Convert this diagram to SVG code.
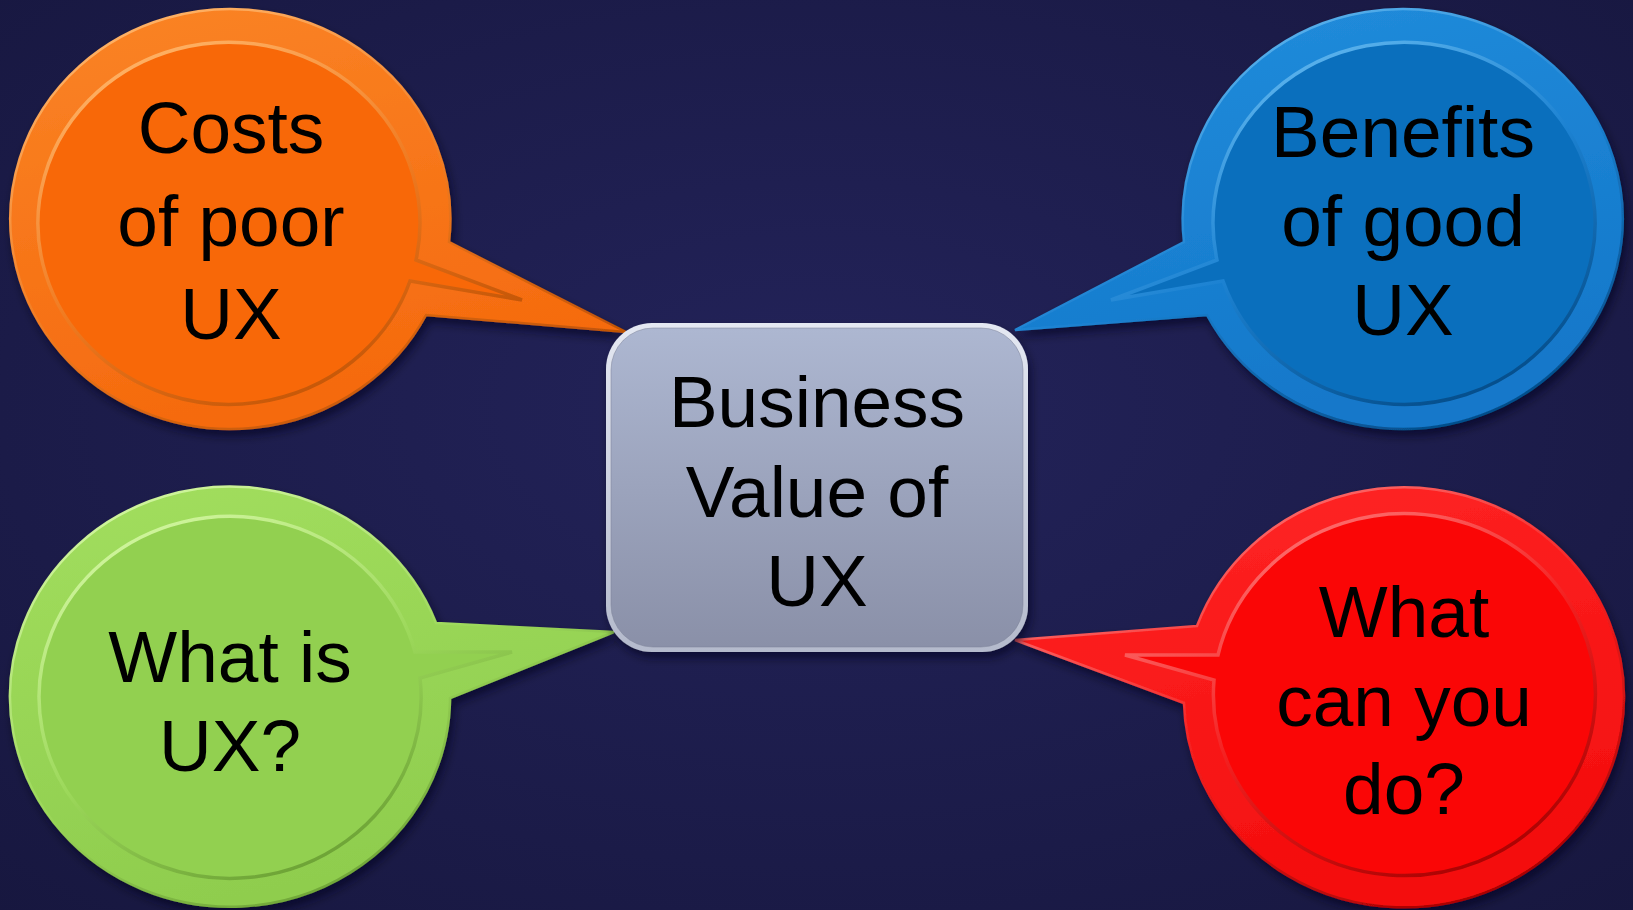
<svg xmlns="http://www.w3.org/2000/svg" width="1633" height="910" viewBox="0 0 1633 910">
  <defs>
    <radialGradient id="bg" cx="50%" cy="45%" r="75%">
      <stop offset="0" stop-color="#23235a"/>
      <stop offset="1" stop-color="#17173f"/>
    </radialGradient>
    <filter id="shadow" x="-10%" y="-10%" width="125%" height="125%">
      <feDropShadow dx="3" dy="6" stdDeviation="5" flood-color="#05051a" flood-opacity="0.6"/>
    </filter>
    <!-- rim (outer band) gradients -->
    <linearGradient id="rimO" x1="0" y1="0" x2="0.3" y2="1">
      <stop offset="0" stop-color="#fa8426"/><stop offset="1" stop-color="#f56a0e"/>
    </linearGradient>
    <linearGradient id="rimB" x1="0" y1="0" x2="0.3" y2="1">
      <stop offset="0" stop-color="#228ddc"/><stop offset="1" stop-color="#1478ca"/>
    </linearGradient>
    <linearGradient id="rimG" x1="0" y1="0" x2="0.3" y2="1">
      <stop offset="0" stop-color="#a2de5e"/><stop offset="1" stop-color="#8fcd4e"/>
    </linearGradient>
    <linearGradient id="rimR" x1="0" y1="0" x2="0.3" y2="1">
      <stop offset="0" stop-color="#ff2626"/><stop offset="1" stop-color="#f40e0e"/>
    </linearGradient>
    <!-- bevel edge gradients: light upper-left, dark lower-right -->
    <linearGradient id="edgeO" x1="0.2" y1="0" x2="0.8" y2="1">
      <stop offset="0" stop-color="#ffb468"/><stop offset="0.5" stop-color="#f07a20"/><stop offset="1" stop-color="#b84c00"/>
    </linearGradient>
    <linearGradient id="edgeB" x1="0.2" y1="0" x2="0.8" y2="1">
      <stop offset="0" stop-color="#6cc0f4"/><stop offset="0.5" stop-color="#1c82d2"/><stop offset="1" stop-color="#034a86"/>
    </linearGradient>
    <linearGradient id="edgeG" x1="0.2" y1="0" x2="0.8" y2="1">
      <stop offset="0" stop-color="#d2f6a0"/><stop offset="0.5" stop-color="#9cd85a"/><stop offset="1" stop-color="#5e922a"/>
    </linearGradient>
    <linearGradient id="edgeR" x1="0.2" y1="0" x2="0.8" y2="1">
      <stop offset="0" stop-color="#ff8080"/><stop offset="0.5" stop-color="#f42020"/><stop offset="1" stop-color="#a40000"/>
    </linearGradient>
    <!-- centre box -->
    <linearGradient id="boxRim" x1="0" y1="0" x2="0" y2="1">
      <stop offset="0" stop-color="#e4e8f2"/><stop offset="1" stop-color="#b4bacc"/>
    </linearGradient>
    <linearGradient id="boxFace" x1="0" y1="0" x2="0" y2="1">
      <stop offset="0" stop-color="#adb7d1"/><stop offset="1" stop-color="#8a90a8"/>
    </linearGradient>
    <style>
      .label { font-family: "Liberation Sans", Arial, sans-serif; font-size: 73px; fill: #000; text-anchor: middle; }
      .outline { stroke-width: 2.5; }
      .groove { stroke-width: 3.5; }
    </style>
  </defs>

  <rect width="1633" height="910" fill="url(#bg)"/>

  <!-- connectors: bubble tails are part of each bubble outline below -->
  <g id="connectors"/>

  <g id="costs-of-poor-ux">
    <path filter="url(#shadow)" fill="url(#rimO)" stroke="url(#edgeO)" class="outline"
          d="M 449 242 L 626 332 L 426 315 A 220 210 0 1 1 449 242 Z"/>
    <path fill="#f86808" stroke="url(#edgeO)" class="groove"
          d="M 416 260 L 522 300 L 410 281 A 191 181 0 1 1 416 260 Z"/>
    <text class="label" x="231" y="153">Costs</text>
    <text class="label" x="231" y="246">of poor</text>
    <text class="label" x="231" y="339">UX</text>
  </g>

  <g id="benefits-of-good-ux">
    <path filter="url(#shadow)" fill="url(#rimB)" stroke="url(#edgeB)" class="outline"
          d="M 1184 242 L 1015 330 L 1207 315 A 220 210 0 1 0 1184 242 Z"/>
    <path fill="#0a6fbd" stroke="url(#edgeB)" class="groove"
          d="M 1217 260 L 1111 300 L 1223 281 A 191 181 0 1 0 1217 260 Z"/>
    <text class="label" x="1403" y="157">Benefits</text>
    <text class="label" x="1403" y="246">of good</text>
    <text class="label" x="1403" y="335">UX</text>
  </g>

  <g id="what-is-ux">
    <path filter="url(#shadow)" fill="url(#rimG)" stroke="url(#edgeG)" class="outline"
          d="M 436 623 L 614 632 L 450 698 A 220 210 0 1 1 436 623 Z"/>
    <path fill="#92d050" stroke="url(#edgeG)" class="groove"
          d="M 415 652 L 512 652 L 420 678 A 191 181 0 1 1 415 652 Z"/>
    <text class="label" x="230" y="682">What is</text>
    <text class="label" x="230" y="771">UX?</text>
  </g>

  <g id="what-can-you-do">
    <path filter="url(#shadow)" fill="url(#rimR)" stroke="url(#edgeR)" class="outline"
          d="M 1197 626 L 1015 640 L 1184 703 A 220 210 0 1 0 1197 626 Z"/>
    <path fill="#fa0606" stroke="url(#edgeR)" class="groove"
          d="M 1218 655 L 1125 655 L 1214 680 A 191 181 0 1 0 1218 655 Z"/>
    <text class="label" x="1404" y="637">What</text>
    <text class="label" x="1404" y="726">can you</text>
    <text class="label" x="1404" y="814">do?</text>
  </g>

  <g id="business-value-of-ux">
    <rect filter="url(#shadow)" x="606" y="323" width="422" height="329" rx="46" fill="url(#boxRim)"/>
    <rect x="611" y="328" width="412" height="319" rx="42" fill="url(#boxFace)" stroke="#7c8298" stroke-opacity="0.5" stroke-width="1"/>
    <text class="label" x="817" y="427">Business</text>
    <text class="label" x="817" y="517">Value of</text>
    <text class="label" x="817" y="606">UX</text>
  </g>
</svg>
